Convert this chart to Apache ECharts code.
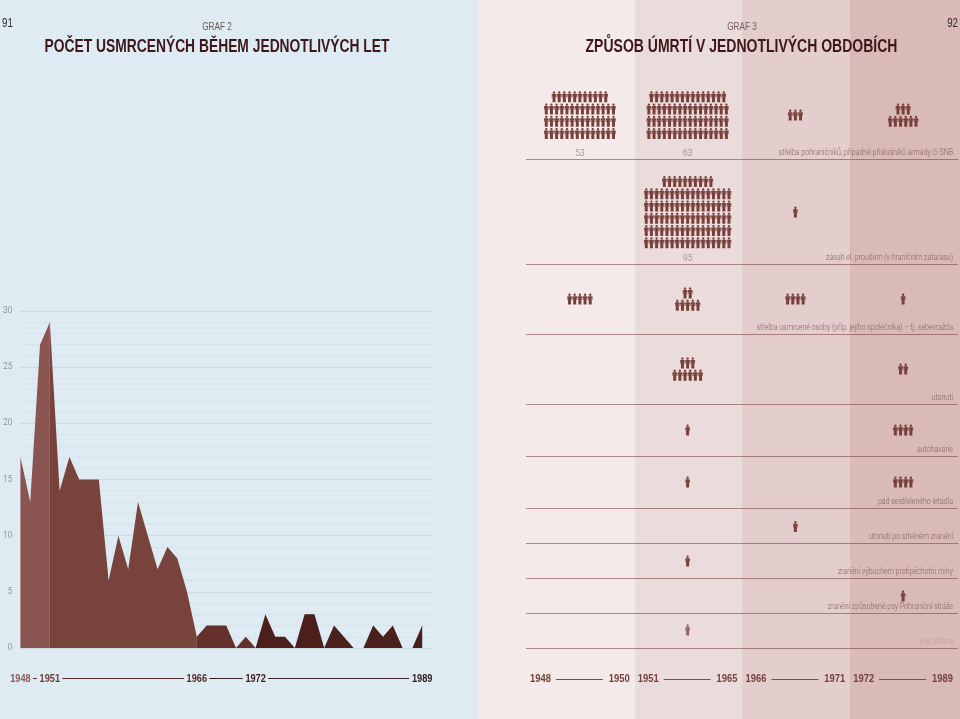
<!DOCTYPE html>
<html>
<head>
<meta charset="utf-8">
<title>Graf 2 a 3</title>
<style>
  html, body { margin: 0; padding: 0; background: #deebf3; }
  #main { width: 960px; height: 719px; }
</style>
<script src="https://cdn.jsdelivr.net/npm/echarts@6/dist/echarts.min.js"></script>
</head>
<body>
<div id="main"></div>
<script>
const years = [1948, 1949, 1950, 1951, 1952, 1953, 1954, 1955, 1956, 1957, 1958, 1959, 1960, 1961,
  1962, 1963, 1964, 1965, 1966, 1967, 1968, 1969, 1970, 1971, 1972, 1973, 1974, 1975,
  1976, 1977, 1978, 1979, 1980, 1981, 1982, 1983, 1984, 1985, 1986, 1987, 1988, 1989];
const deaths = [17, 13, 27, 29, 14, 17, 15, 15, 15, 6, 10, 7, 13, 10,
  7, 9, 8, 5, 1, 2, 2, 2, 0, 1, 0, 3, 1, 1,
  0, 3, 3, 0, 2, 1, 0, 0, 2, 1, 2, 0, 0, 2];
const yearTicks = [1948, 1951, 1966, 1972, 1989];
const periods = [[1948, 1950], [1951, 1965], [1966, 1971], [1972, 1989]];
const causes = [
  "střelba pohraničníků, případně příslušníků armády či SNB",
  "zásah el. proudem (v hraničním zátarasu)",
  "střelba usmrcené osoby (příp. jejího společníka) – tj. sebevražda",
  "utonutí",
  "autohavárie",
  "pád sestřeleného letadla",
  "utonutí po střelném zranění",
  "zranění výbuchem protipěchotní míny",
  "zranění způsobené psy Pohraniční stráže",
  "jiná příčina",
];
const period1 = [53, 0, 5, 0, 0, 0, 0, 0, 0, 0];
const period2 = [63, 95, 7, 9, 1, 1, 0, 1, 0, 1];
const period3 = [3, 1, 4, 0, 0, 0, 1, 0, 0, 0];
const period4 = [9, 0, 1, 2, 4, 4, 0, 0, 1, 0];

// layout, pixel rows of the right page (y axis there is 1:1 with the page)
const rowCenters = [115, 212, 299, 369, 430, 482, 526.5, 561, 596, 630];
const rowBottoms = [159, 264, 334, 404, 456, 508, 543, 578, 613, 648];
const blockWidths = { 53: 14, 63: 16, 95: 17, 9: 6, 7: 5 };
const areaColors = ["#8a5451", "#78433b", "#63302b", "#4b1f1c"];
const tickColors = ["#8a5a57", "#6d3d38", "#552a28", "#3b1f20", "#2d1a1d"];
const stripeColors = ["#f5eaea", "#ebdcdc", "#e4cdcd", "#d9bab7"];

const sans = '"Liberation Sans", sans-serif';
const thin = 'Roboto, "Liberation Sans", sans-serif';
const PERSON = "M23 0A12 12 0 1 1 22.9 0ZM4 27H42Q46 27 46 31V64H41V44H38V110H8V44H5V64H0V31Q0 27 4 27Z";

function slicePeriod(from, to) {
  return years
    .map((y, i) => [y, deaths[i]])
    .filter((p) => p[0] >= from && p[0] <= to);
}

const cells = [];
[period1, period2, period3, period4].forEach((counts, j) => {
  counts.forEach((n, i) => {
    if (n > 0) cells.push([j, i, n]);
  });
});

function renderCell(params, api) {
  const j = api.value(0);
  const i = api.value(1);
  const n = api.value(2);
  const c = api.coord([j, rowCenters[i]]);
  const perRow = blockWidths[n] || n;
  const rows = Math.ceil(n / perRow);
  const children = [];
  const fill = i === causes.length - 1 ? "#96625e" : "#78403b";
  for (let r = 0; r < rows; r++) {
    const size = r === 0 && n % perRow ? n % perRow : perRow;
    for (let p = 0; p < size; p++) {
      const px = c[0] + (p - (size - 1) / 2) * 5.17;
      const py = c[1] + (r - (rows - 1) / 2) * 12.25;
      children.push({
        type: "path",
        shape: { pathData: PERSON, x: px - 2.6, y: py - 5.5, width: 5.2, height: 11 },
        style: { fill: fill },
      });
    }
  }
  if (n > 10) {
    children.push({
      type: "text",
      style: {
        text: String(n),
        x: c[0],
        y: api.coord([j, rowBottoms[i] - 5.5])[1],
        fill: "#8d7573",
        font: "300 8.5px " + thin,
        textAlign: "center",
        textVerticalAlign: "middle",
      },
    });
  }
  return { type: "group", children: children };
}

function renderRow(params, api) {
  const i = api.value(0);
  const box = params.coordSys;
  const y = api.coord([0, rowBottoms[i]])[1];
  const last = i === causes.length - 1;
  return {
    type: "group",
    children: [
      {
        type: "line",
        shape: { x1: box.x, y1: y + 0.5, x2: box.x + box.width + 1, y2: y + 0.5 },
        style: { stroke: "rgba(125,70,70,0.6)", lineWidth: 1 },
      },
      {
        type: "text",
        x: box.x + box.width - 4,
        y: y - 6,
        scaleX: 0.84,
        style: {
          text: causes[i],
          fill: last ? "#b99a98" : "#86645f",
          font: "300 8.4px " + thin,
          textAlign: "right",
          textVerticalAlign: "middle",
        },
      },
    ],
  };
}

function renderPeriod(params, api) {
  const j = api.value(0);
  const c = api.coord([j, 679]);
  const band = api.size([1, 0])[0];
  const yearText = (text, x, align) => ({
    type: "text",
    x: x,
    y: c[1],
    scaleX: 0.94,
    style: {
      text: String(text),
      fill: "#74423e",
      font: "bold 10px " + sans,
      textAlign: align,
      textVerticalAlign: "middle",
    },
  });
  return {
    type: "group",
    children: [
      yearText(periods[j][0], c[0] - band / 2 + 4, "left"),
      {
        type: "line",
        shape: { x1: c[0] - 24, y1: c[1] + 0.5, x2: c[0] + 23, y2: c[1] + 0.5 },
        style: { stroke: "#7d4d49", lineWidth: 1.2 },
      },
      yearText(periods[j][1], c[0] + band / 2 - 4, "right"),
    ],
  };
}

function renderTickLine(params, api) {
  const from = api.coord([api.value(0), 0]);
  const to = api.coord([api.value(1), 0]);
  return {
    type: "line",
    shape: { x1: from[0] + 12.5, y1: from[1] + 30.5, x2: to[0] - 13, y2: to[1] + 30.5 },
    style: { stroke: tickColors[Math.min(params.dataIndex + 1, 3)], lineWidth: 1.2 },
  };
}

function renderTickLabel(params, api) {
  const at = api.coord([api.value(0), 0]);
  return {
    type: "text",
    x: at[0],
    y: at[1] + 31,
    scaleX: 0.92,
    style: {
      text: String(api.value(0)),
      fill: tickColors[params.dataIndex],
      font: "bold 10px " + sans,
      textAlign: "center",
      textVerticalAlign: "middle",
    },
  };
}

const areaSeries = periods.map((p, k) => {
  const from = k === 0 ? p[0] : periods[k - 1][1] + 1;
  const to = k < periods.length - 1 ? periods[k + 1][0] : p[1];
  return {
    type: "line",
    xAxisIndex: 0,
    yAxisIndex: 0,
    data: slicePeriod(from, to),
    showSymbol: false,
    symbol: "none",
    lineStyle: { width: 0 },
    areaStyle: { color: areaColors[k], opacity: 1 },
    z: 2 + k,
  };
});

// the source face is condensed, the installed ones are squeezed to fit
function headText(text, x, y, font, fill, squeeze, align) {
  return {
    type: "text",
    x: x,
    y: y,
    scaleX: squeeze,
    silent: true,
    style: { text: text, font: font, fill: fill, textAlign: align || "center", textVerticalAlign: "middle" },
  };
}

function stripe(x, width, fill) {
  return { type: "rect", silent: true, z: -10, shape: { x: x, y: 0, width: width, height: 719 }, style: { fill: fill } };
}

const titleFont = "bold 17.5px " + sans;
const subFont = "10.5px " + sans;
const pageFont = "12.5px " + sans;

const chart = echarts.init(document.getElementById("main"));
chart.setOption({
  animation: false,
  backgroundColor: "#deebf3",
  graphic: [
    stripe(478, 157, stripeColors[0]),
    stripe(635, 107, stripeColors[1]),
    stripe(742, 108, stripeColors[2]),
    stripe(850, 110, stripeColors[3]),
    headText("91", 2, 24, pageFont, "#2f2a2e", 0.78, "left"),
    headText("GRAF 2", 217, 27, subFont, "#6d5557", 0.78),
    headText("POČET USMRCENÝCH BĚHEM JEDNOTLIVÝCH LET", 217, 47, titleFont, "#3d1719", 0.79),
    headText("92", 958, 24, pageFont, "#2f2a2e", 0.78, "right"),
    headText("GRAF 3", 742, 27, subFont, "#7a5b5b", 0.78),
    headText("ZPŮSOB ÚMRTÍ V JEDNOTLIVÝCH OBDOBÍCH", 741.5, 47, titleFont, "#3d1719", 0.8),
  ],
  grid: [
    { left: 20, top: 311, width: 412, height: 337 },
    { left: 526, top: 0, width: 431, height: 719 },
  ],
  xAxis: [
    {
      gridIndex: 0,
      type: "value",
      min: 1948,
      max: 1990,
      splitLine: { show: false },
      axisLine: { show: false },
      axisTick: { show: false },
      axisLabel: { show: false },
    },
    {
      gridIndex: 1,
      type: "category",
      data: periods.map((p) => p.join("–")),
      show: false,
    },
  ],
  yAxis: [
    {
      gridIndex: 0,
      type: "value",
      min: 0,
      max: 30,
      interval: 5,
      axisLine: { show: false },
      axisTick: { show: false },
      axisLabel: { margin: 8, fontFamily: thin, fontWeight: 300, fontSize: 8.5, color: "#6f7478" },
      splitLine: { lineStyle: { color: "#cbdbe4", width: 1 } },
      minorTick: { show: false, splitNumber: 5 },
      minorSplitLine: { show: true, lineStyle: { color: "#d5e3ec", width: 1 } },
    },
    {
      gridIndex: 1,
      type: "value",
      inverse: true,
      min: 0,
      max: 719,
      show: false,
    },
  ],
  series: areaSeries.concat([
    {
      type: "custom",
      xAxisIndex: 0,
      yAxisIndex: 0,
      renderItem: renderTickLine,
      data: yearTicks.slice(1).map((y, i) => [yearTicks[i], y]),
      encode: { x: [0, 1] },
      silent: true,
    },
    {
      type: "custom",
      xAxisIndex: 0,
      yAxisIndex: 0,
      renderItem: renderTickLabel,
      data: yearTicks.map((y) => [y]),
      encode: { x: 0 },
      silent: true,
    },
    {
      type: "custom",
      xAxisIndex: 1,
      yAxisIndex: 1,
      renderItem: renderRow,
      data: causes.map((c, i) => [i]),
      encode: { x: -1, y: -1 },
      silent: true,
      z: 3,
    },
    {
      type: "custom",
      xAxisIndex: 1,
      yAxisIndex: 1,
      renderItem: renderCell,
      data: cells,
      encode: { x: 0, y: -1 },
      silent: true,
      z: 4,
    },
    {
      type: "custom",
      xAxisIndex: 1,
      yAxisIndex: 1,
      renderItem: renderPeriod,
      data: periods.map((p, j) => [j]),
      encode: { x: 0, y: -1 },
      silent: true,
      z: 4,
    },
  ]),
});
</script>
</body>
</html>
